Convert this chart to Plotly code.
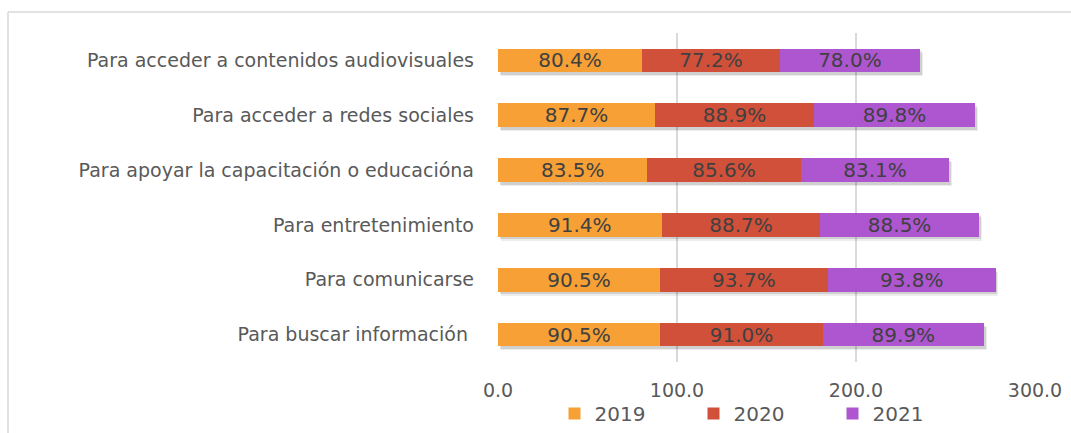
import plotly.graph_objects as go

categories = [
    "Para buscar información\u00a0",
    "Para comunicarse",
    "Para entretenimiento",
    "Para apoyar la capacitación o educacióna",
    "Para acceder a redes sociales",
    "Para acceder a contenidos audiovisuales",
]
v2019 = [90.5, 90.5, 91.4, 83.5, 87.7, 80.4]
v2020 = [91.0, 93.7, 88.7, 85.6, 88.9, 77.2]
v2021 = [89.9, 93.8, 88.5, 83.1, 89.8, 78.0]
series_names = ["2019", "2020", "2021"]
colors = ["#F7A035", "#D0503A", "#AD56D0"]
tick_vals = [0, 100, 200, 300]

FONT = "'DejaVu Sans', sans-serif"
BAR_W = 0.43

pos = list(range(len(categories)))
totals = [a + b + c for a, b, c in zip(v2019, v2020, v2021)]

fig = go.Figure()
# soft drop shadow (styling only, derived from totals)
for dy, dx, alpha in [(0.075, 1.6, 0.07), (0.05, 1.0, 0.12)]:
    fig.add_trace(go.Bar(
        y=[p - dy for p in pos], x=totals, base=[dx] * len(pos),
        orientation="h", width=BAR_W,
        marker=dict(color=f"rgba(0,0,0,{alpha})", line=dict(width=0)),
        showlegend=False, hoverinfo="skip",
    ))
for name, vals, col in zip(series_names, [v2019, v2020, v2021], colors):
    fig.add_trace(go.Bar(
        y=pos, x=vals, name=name, orientation="h", width=BAR_W,
        marker=dict(color=col, line=dict(width=0)),
        text=[f"{v:.1f}%" for v in vals],
        textposition="inside", insidetextanchor="middle",
        constraintext="none",
        textfont=dict(color="#404040", size=20, family=FONT),
        cliponaxis=False,
    ))

L, R, T, B = 498, 36, 33, 71
W, H = 1071, 433
pw = W - L - R
ph = H - T - B

def px_x(p):
    return (p - L) / pw

def px_y(p):
    return 1 - (p - T) / ph

fig.update_layout(
    width=W, height=H,
    barmode="stack",
    margin=dict(l=L, r=R, t=T, b=B, autoexpand=False),
    paper_bgcolor="white", plot_bgcolor="white",
    font=dict(family=FONT, color="#595959", size=19),
    xaxis=dict(
        range=[0, 300], tickvals=tick_vals, tickformat=".1f",
        showgrid=True, gridcolor="#D9D9D9", gridwidth=1.5,
        zeroline=False, showline=False, ticks="",
        tickfont=dict(size=19, color="#595959"),
        ticklabelstandoff=15, automargin=False,
    ),
    yaxis=dict(
        range=[-0.5, len(categories) - 0.5],
        tickvals=pos, ticktext=categories,
        showgrid=False, ticks="", showline=False, zeroline=False,
        tickfont=dict(size=19, color="#595959"),
        ticklabelstandoff=23, automargin=False,
    ),
    legend=dict(
        orientation="h", x=px_x(763), xanchor="center",
        yref="container", y=1 - 394 / H, yanchor="top",
        font=dict(size=20, color="#595959"),
        itemwidth=30, entrywidth=94, entrywidthmode="pixels",
        traceorder="normal", borderwidth=0,
        bgcolor="rgba(0,0,0,0)",
    ),
    shapes=[
        dict(type="line", xref="paper", yref="paper",
             x0=px_x(8), x1=px_x(W + 50), y0=px_y(12), y1=px_y(12),
             line=dict(color="#D9D9D9", width=1.5), layer="below"),
        dict(type="line", xref="paper", yref="paper",
             x0=px_x(8), x1=px_x(8), y0=px_y(12), y1=px_y(H + 50),
             line=dict(color="#D9D9D9", width=1.5), layer="below"),
    ],
)

fig.write_html("out.html", config={"displayModeBar": False},
               post_script="document.body.style.margin='0';")
